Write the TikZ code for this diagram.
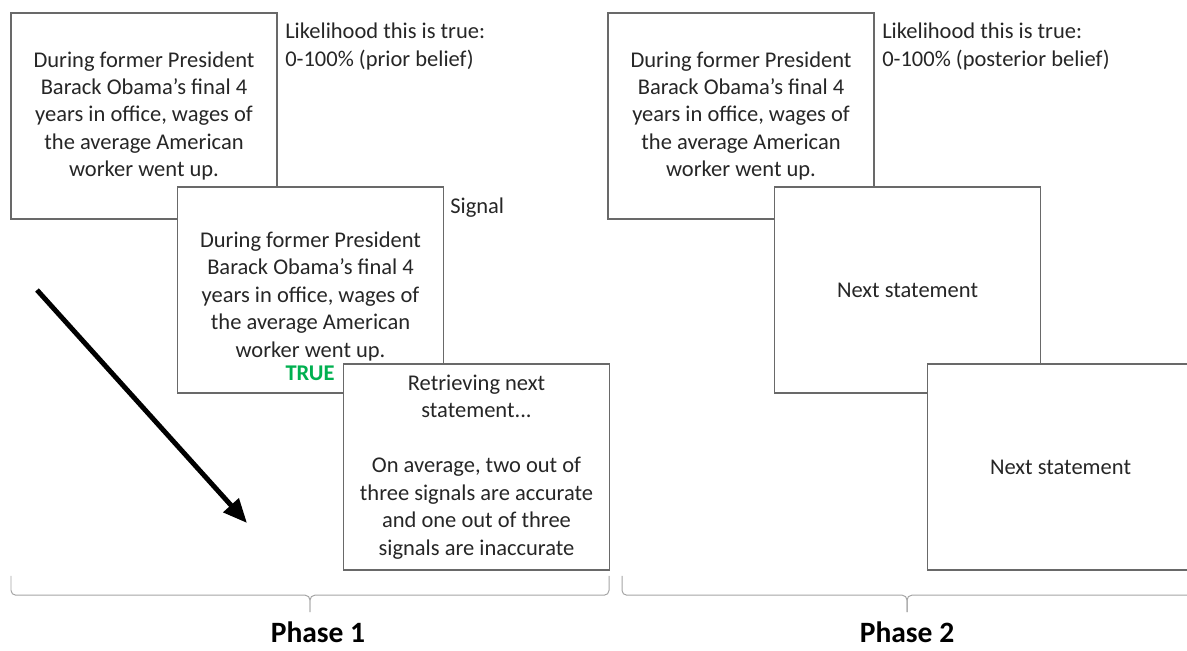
\documentclass[tikz,border=0pt]{standalone}
\usepackage{fontspec}
\setmainfont{Carlito}
\usepackage{xcolor}
\usepackage{tikz}
\usetikzlibrary{arrows.meta,calc}
\definecolor{inkgray}{RGB}{38,38,38}
\definecolor{boxgray}{RGB}{105,105,105}
\definecolor{bracegray}{RGB}{165,165,165}
\definecolor{truegreen}{RGB}{0,176,80}

\tikzset{
  card/.style={draw=boxgray, fill=white, line width=0.9pt, minimum width=6.65cm, minimum height=5.15cm, inner sep=0pt, font=\fontsize{16}{19.5}\selectfont, text=inkgray, align=center},
  words/.style={font=\fontsize{16}{19.5}\selectfont, text=inkgray, align=left, inner sep=0pt},
  brace/.style={draw=bracegray, line width=0.7pt, rounded corners=0.12cm},
  phase/.style={font=\fontsize{21}{25}\selectfont\bfseries, text=black, inner sep=0pt}
}

\begin{document}
\begin{tikzpicture}
    \useasboundingbox (0,0) rectangle (29.675,16.25);
    \clip (0,0) rectangle (29.675,16.25);

    % Phase 1: prior belief
    \node[card] (prior1) at (3.6,13.35) {During former President\\Barack Obama’s final 4\\years in office, wages of\\the average American\\worker went up.};
    \node[words, anchor=west] (likely1) at (7.125,15.09) {Likelihood this is true:\\0-100\% (prior belief)};

    % Phase 1: signal
    \node[card] (signal1) at (7.7625,9.0) {};
    \node[words, align=center] (signal1txt) at ($(signal1)+(0,-0.16)$) {During former President\\Barack Obama’s final 4\\years in office, wages of\\the average American\\worker went up.};
    \node[font=\fontsize{16}{19.5}\selectfont\bfseries, text=truegreen, inner sep=0pt] (true1) at (7.75,6.925) {TRUE};
    \node[words, anchor=west] (signallbl) at (11.25,11.05) {Signal};

    % Phase 1: retrieving
    \node[card] (retrieve1) at (11.9125,4.575) {Retrieving next\\statement...\\[19.5pt]On average, two out of\\three signals are accurate\\and one out of three\\signals are inaccurate};

    % Time arrow
    \coordinate (arrS) at (0.925,9.0);
    \coordinate (arrE) at (6.175,3.175);
    \draw[line width=3.5pt, -{Triangle[length=0.6cm,width=0.5cm]}] (arrS) -- (arrE);

    % Phase 2: posterior belief
    \node[card] (prior2) at (18.525,13.35) {During former President\\Barack Obama’s final 4\\years in office, wages of\\the average American\\worker went up.};
    \node[words, anchor=west] (likely2) at (22.05,15.09) {Likelihood this is true:\\0-100\% (posterior belief)};

    % Phase 2: next statements
    \node[card] (next1) at (22.6875,9.0) {Next statement};
    \node[card] (next2) at (26.5125,4.575) {Next statement};

    % Braces
    \draw[brace] (0.275,1.85) |- (7.75,1.37) -- (7.75,0.95);
    \draw[brace] (15.225,1.85) |- (7.75,1.37) -- (7.75,0.95);
    \draw[brace] (15.55,1.85) |- (22.675,1.37) -- (22.675,0.95);
    \draw[brace] (29.85,1.85) |- (22.675,1.37) -- (22.675,0.95);

    % Phase labels
    \node[phase] (phase1) at (7.95,0.45) {Phase 1};
    \node[phase] (phase2) at (22.675,0.45) {Phase 2};
\end{tikzpicture}
\end{document}
